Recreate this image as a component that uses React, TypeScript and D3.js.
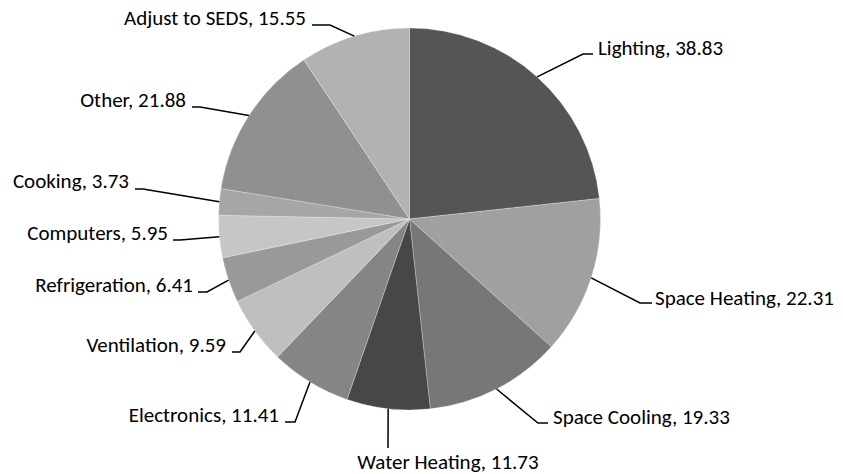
import React from 'react';
import * as d3 from 'd3';

const categories = ['Lighting', 'Space Heating', 'Space Cooling', 'Water Heating', 'Electronics', 'Ventilation', 'Refrigeration', 'Computers', 'Cooking', 'Other', 'Adjust to SEDS'];
const values = [38.83, 22.31, 19.33, 11.73, 11.41, 9.59, 6.41, 5.95, 3.73, 21.88, 15.55];
const colors = ['#555555', '#a0a0a0', '#777777', '#474747', '#858585', '#bfbfbf', '#999999', '#c6c6c6', '#a6a6a6', '#909090', '#b2b2b2'];

// label layout: elbow point, stub end, text anchor point (absolute px)
const elbows: [number, number][] = [[583, 54], [640, 303], [538, 423], [388, 448], [295, 422], [240, 352], [207, 292], [180, 240], [143, 189], [200, 107], [330, 25]];
const stubEnds: [number, number][] = [[593, 54], [652, 303], [548, 423], [388, 448], [285, 422], [232, 352], [198, 292], [173, 240], [135, 189], [192, 107], [312, 25]];
const textPos: [number, number, string][] = [[598, 55, 'start'], [655, 305, 'start'], [553, 424, 'start'], [448, 469, 'middle'], [279, 422, 'end'], [226, 352, 'end'], [193, 292, 'end'], [168, 240, 'end'], [129, 188, 'end'], [186, 107, 'end'], [306, 25, 'end']];

const W = 843, H = 474;
const CX = 409.5, CY = 219, R = 191;

export default function App() {
  const pie = d3.pie<number>().sort(null).value((v) => v);
  const arcs = pie(values);
  const arc = d3.arc<d3.PieArcDatum<number>>().innerRadius(0).outerRadius(R);
  const edge = d3.arc<d3.PieArcDatum<number>>().innerRadius(R).outerRadius(R);
  return (
    <svg width={W} height={H} style={{ position: 'absolute', left: 0, top: 0, background: '#fff' }}
      fontFamily="Carlito, Lato, sans-serif" fontSize={21}>
      <g transform={`translate(${CX},${CY})`}>
        {arcs.map((a, i) => (
          <path key={i} d={arc(a) || ''} fill={colors[i]} stroke="#ffffff" strokeOpacity={0.35} strokeWidth={0.75} />
        ))}
      </g>
      {arcs.map((a, i) => {
        const [ex, ey] = edge.centroid(a);
        const pts = [[CX + ex, CY + ey], elbows[i], stubEnds[i]];
        return (
          <g key={i}>
            <polyline points={pts.map((p) => p.join(',')).join(' ')} fill="none" stroke="#000" strokeWidth={1.5} />
            <text x={textPos[i][0]} y={textPos[i][1]} textAnchor={textPos[i][2] as any} fill="#000">
              {`${categories[i]}, ${values[i].toFixed(2)}`}
            </text>
          </g>
        );
      })}
    </svg>
  );
}
